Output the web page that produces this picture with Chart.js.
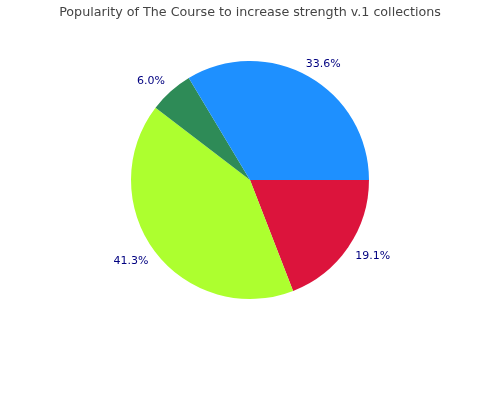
<!DOCTYPE html>
<html>
<head>
<meta charset="utf-8">
<script src="https://cdn.jsdelivr.net/npm/chart.js@4"></script>
<style>
  html, body { margin: 0; padding: 0; background: #fff; }
  canvas { display: block; }
</style>
</head>
<body>
<canvas id="pieChart" width="500" height="400"></canvas>
<script>
  // Slices, clockwise from 3 o'clock
  const categories = ['D', 'C', 'B', 'A'];
  const shares = [19.1, 41.3, 6.0, 33.6];
  const sliceColors = ['#DC143C', '#ADFF2F', '#2E8B57', '#1E90FF'];
  const chartTitle = 'Popularity of The Course to increase strength v.1 collections';

  // Draw the percentage labels just outside each slice
  const outsideLabels = {
      id: 'outsideLabels',
      afterDatasetsDraw(chart) {
          const ctx = chart.ctx;
          const meta = chart.getDatasetMeta(0);
          const values = chart.data.datasets[0].data;
          const total = values.reduce((a, b) => a + b, 0);
          ctx.save();
          ctx.font = '11px "DejaVu Sans"';
          ctx.fillStyle = '#000080';
          ctx.textAlign = 'center';
          ctx.textBaseline = 'middle';
          meta.data.forEach((arc, i) => {
              const mid = (arc.startAngle + arc.endAngle) / 2;
              const r = arc.outerRadius;
              const x = arc.x + Math.cos(mid) * r * 1.25;
              const y = arc.y + Math.sin(mid) * r * 1.125 + 1;
              ctx.fillText((values[i] / total * 100).toFixed(1) + '%', x, y);
          });
          ctx.restore();
      }
  };

  const ctx = document.getElementById('pieChart').getContext('2d');
  new Chart(ctx, {
      type: 'pie',
      data: {
          labels: categories,
          datasets: [{
              data: shares,
              backgroundColor: sliceColors,
              borderWidth: 0
          }]
      },
      options: {
          responsive: false,
          animation: false,
          rotation: 90,
          layout: {
              padding: { bottom: 101 }
          },
          plugins: {
              legend: { display: false },
              tooltip: { enabled: false },
              title: {
                  display: true,
                  text: chartTitle,
                  color: '#444',
                  font: { family: 'DejaVu Sans', size: 12.7, weight: 'normal', lineHeight: 1.2 },
                  padding: { top: 5.4, bottom: 40.4 }
              }
          }
      },
      plugins: [outsideLabels]
  });
</script>
</body>
</html>
